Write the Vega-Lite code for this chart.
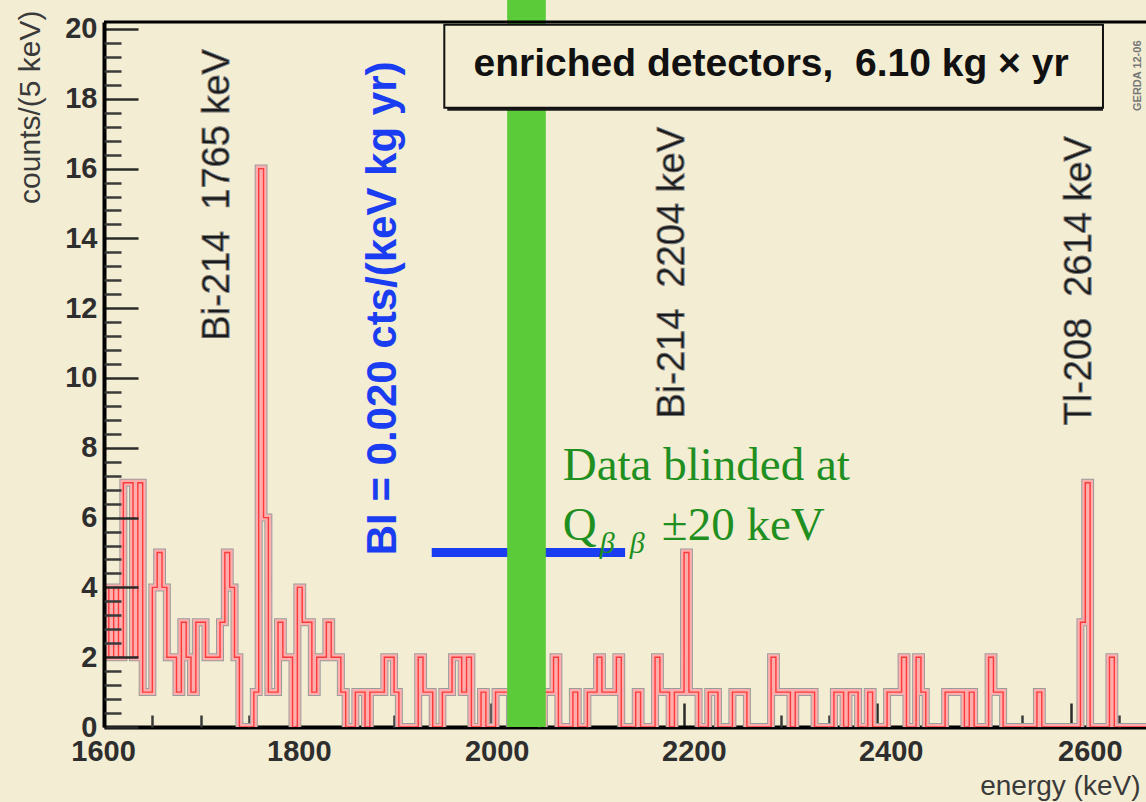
{
  "$schema": "https://vega.github.io/schema/vega-lite/v6.json",
  "width": 1042,
  "height": 705,
  "autosize": {"type": "none"},
  "padding": {"left": 104, "top": 22, "right": 0, "bottom": 75},
  "background": "#f3edd3",
  "config": {"font": "Liberation Sans", "view": {"stroke": null}},
  "datasets": {
    "spectrum": [
      {"energy":1600,"counts":4},{"energy":1605,"counts":2},{"energy":1610,"counts":4},{"energy":1615,"counts":2},
      {"energy":1620,"counts":7},{"energy":1625,"counts":7},{"energy":1630,"counts":2},{"energy":1635,"counts":7},
      {"energy":1640,"counts":1},{"energy":1645,"counts":1},{"energy":1650,"counts":4},{"energy":1655,"counts":5},
      {"energy":1660,"counts":4},{"energy":1665,"counts":2},{"energy":1670,"counts":2},{"energy":1675,"counts":1},
      {"energy":1680,"counts":3},{"energy":1685,"counts":2},{"energy":1690,"counts":1},{"energy":1695,"counts":3},
      {"energy":1700,"counts":3},{"energy":1705,"counts":2},{"energy":1710,"counts":2},{"energy":1715,"counts":2},
      {"energy":1720,"counts":3},{"energy":1725,"counts":5},{"energy":1730,"counts":4},{"energy":1735,"counts":2},
      {"energy":1740,"counts":0},{"energy":1745,"counts":0},{"energy":1750,"counts":0},{"energy":1755,"counts":1},
      {"energy":1760,"counts":16},{"energy":1765,"counts":6},{"energy":1770,"counts":1},{"energy":1775,"counts":1},
      {"energy":1780,"counts":3},{"energy":1785,"counts":2},{"energy":1790,"counts":2},{"energy":1795,"counts":0},
      {"energy":1800,"counts":4},{"energy":1805,"counts":3},{"energy":1810,"counts":3},{"energy":1815,"counts":1},
      {"energy":1820,"counts":2},{"energy":1825,"counts":2},{"energy":1830,"counts":3},{"energy":1835,"counts":2},
      {"energy":1840,"counts":2},{"energy":1845,"counts":1},{"energy":1850,"counts":0},{"energy":1855,"counts":0},
      {"energy":1860,"counts":1},{"energy":1865,"counts":1},{"energy":1870,"counts":0},{"energy":1875,"counts":1},
      {"energy":1880,"counts":1},{"energy":1885,"counts":1},{"energy":1890,"counts":2},{"energy":1895,"counts":2},
      {"energy":1900,"counts":1},{"energy":1905,"counts":0},{"energy":1910,"counts":0},{"energy":1915,"counts":0},
      {"energy":1920,"counts":0},{"energy":1925,"counts":2},{"energy":1930,"counts":1},{"energy":1935,"counts":1},
      {"energy":1940,"counts":0},{"energy":1945,"counts":0},{"energy":1950,"counts":1},{"energy":1955,"counts":1},
      {"energy":1960,"counts":2},{"energy":1965,"counts":2},{"energy":1970,"counts":1},{"energy":1975,"counts":2},
      {"energy":1980,"counts":0},{"energy":1985,"counts":0},{"energy":1990,"counts":1},{"energy":1995,"counts":0},
      {"energy":2000,"counts":0},{"energy":2005,"counts":1},{"energy":2010,"counts":1},{"energy":2015,"counts":1},
      {"energy":2020,"counts":0},{"energy":2025,"counts":0},{"energy":2030,"counts":0},{"energy":2035,"counts":0},
      {"energy":2040,"counts":0},{"energy":2045,"counts":0},{"energy":2050,"counts":0},{"energy":2055,"counts":1},
      {"energy":2060,"counts":1},{"energy":2065,"counts":2},{"energy":2070,"counts":0},{"energy":2075,"counts":0},
      {"energy":2080,"counts":0},{"energy":2085,"counts":1},{"energy":2090,"counts":0},{"energy":2095,"counts":0},
      {"energy":2100,"counts":1},{"energy":2105,"counts":1},{"energy":2110,"counts":2},{"energy":2115,"counts":1},
      {"energy":2120,"counts":1},{"energy":2125,"counts":1},{"energy":2130,"counts":2},{"energy":2135,"counts":0},
      {"energy":2140,"counts":0},{"energy":2145,"counts":0},{"energy":2150,"counts":1},{"energy":2155,"counts":0},
      {"energy":2160,"counts":0},{"energy":2165,"counts":0},{"energy":2170,"counts":2},{"energy":2175,"counts":1},
      {"energy":2180,"counts":1},{"energy":2185,"counts":0},{"energy":2190,"counts":1},{"energy":2195,"counts":1},
      {"energy":2200,"counts":5},{"energy":2205,"counts":1},{"energy":2210,"counts":1},{"energy":2215,"counts":0},
      {"energy":2220,"counts":0},{"energy":2225,"counts":1},{"energy":2230,"counts":1},{"energy":2235,"counts":0},
      {"energy":2240,"counts":0},{"energy":2245,"counts":0},{"energy":2250,"counts":1},{"energy":2255,"counts":1},
      {"energy":2260,"counts":1},{"energy":2265,"counts":0},{"energy":2270,"counts":0},{"energy":2275,"counts":0},
      {"energy":2280,"counts":0},{"energy":2285,"counts":0},{"energy":2290,"counts":2},{"energy":2295,"counts":1},
      {"energy":2300,"counts":1},{"energy":2305,"counts":1},{"energy":2310,"counts":0},{"energy":2315,"counts":1},
      {"energy":2320,"counts":1},{"energy":2325,"counts":1},{"energy":2330,"counts":1},{"energy":2335,"counts":0},
      {"energy":2340,"counts":0},{"energy":2345,"counts":0},{"energy":2350,"counts":0},{"energy":2355,"counts":1},
      {"energy":2360,"counts":1},{"energy":2365,"counts":0},{"energy":2370,"counts":1},{"energy":2375,"counts":1},
      {"energy":2380,"counts":0},{"energy":2385,"counts":0},{"energy":2390,"counts":1},{"energy":2395,"counts":0},
      {"energy":2400,"counts":0},{"energy":2405,"counts":0},{"energy":2410,"counts":1},{"energy":2415,"counts":1},
      {"energy":2420,"counts":1},{"energy":2425,"counts":2},{"energy":2430,"counts":0},{"energy":2435,"counts":0},
      {"energy":2440,"counts":2},{"energy":2445,"counts":1},{"energy":2450,"counts":0},{"energy":2455,"counts":0},
      {"energy":2460,"counts":0},{"energy":2465,"counts":0},{"energy":2470,"counts":1},{"energy":2475,"counts":1},
      {"energy":2480,"counts":1},{"energy":2485,"counts":1},{"energy":2490,"counts":0},{"energy":2495,"counts":1},
      {"energy":2500,"counts":0},{"energy":2505,"counts":0},{"energy":2510,"counts":0},{"energy":2515,"counts":2},
      {"energy":2520,"counts":1},{"energy":2525,"counts":1},{"energy":2530,"counts":0},{"energy":2535,"counts":0},
      {"energy":2540,"counts":0},{"energy":2545,"counts":0},{"energy":2550,"counts":0},{"energy":2555,"counts":0},
      {"energy":2560,"counts":0},{"energy":2565,"counts":1},{"energy":2570,"counts":0},{"energy":2575,"counts":0},
      {"energy":2580,"counts":0},{"energy":2585,"counts":0},{"energy":2590,"counts":0},{"energy":2595,"counts":0},
      {"energy":2600,"counts":0},{"energy":2605,"counts":0},{"energy":2610,"counts":3},{"energy":2615,"counts":7},
      {"energy":2620,"counts":0},{"energy":2625,"counts":0},{"energy":2630,"counts":0},{"energy":2635,"counts":0},
      {"energy":2640,"counts":2},{"energy":2645,"counts":0},{"energy":2650,"counts":0},{"energy":2655,"counts":0},
      {"energy":2660,"counts":0},{"energy":2665,"counts":0},{"energy":2670,"counts":0},{"energy":2675,"counts":0},
      {"energy":2680,"counts":0}
    ]
  },
  "data": {"name": "spectrum"},
  "resolve": {"axis": {"x": "independent", "y": "independent"}},
  "layer": [
    {
      "mark": {"type": "line", "interpolate": "step-after", "color": "#9c9c9c", "strokeWidth": 8, "clip": true, "strokeJoin": "miter"},
      "encoding": {
        "x": {"field": "energy", "type": "quantitative", "scale": {"domain": [1600, 2677.8], "nice": false, "zero": false},
          "axis": {"values": [1600, 1800, 2000, 2200, 2400, 2600], "format": "d", "orient": "bottom", "grid": false, "zindex": 0,
            "tickSize": -24, "tickWidth": 2.5, "tickColor": "#2a2a2a",
            "domainColor": "#000000", "domainWidth": 4,
            "labelFontSize": 29, "labelFontWeight": "bold", "labelColor": "#2e2e2e", "labelPadding": 57,
            "labelBaseline": "alphabetic", "labelFlush": false, "labelOverlap": false,
            "labelOffset": {"condition": [
              {"test": "datum.value == 1600", "value": -1},
              {"test": "datum.value == 1800", "value": 1.5},
              {"test": "datum.value == 2000", "value": 6},
              {"test": "datum.value == 2200", "value": 9.7},
              {"test": "datum.value == 2400", "value": 13.3},
              {"test": "datum.value == 2600", "value": 19}
            ], "value": 0},
            "title": "energy (keV)", "titleFontSize": 28, "titleFontWeight": "normal", "titleColor": "#3a3a3a",
            "titleAnchor": "end", "titleAlign": "right", "titleBaseline": "alphabetic", "titleX": 1036, "titleY": 67}},
        "y": {"field": "counts", "type": "quantitative", "scale": {"domain": [0, 20.2], "nice": false, "zero": false},
          "axis": {"values": [0, 2, 4, 6, 8, 10, 12, 14, 16, 18, 20], "orient": "left", "grid": false, "zindex": 1,
            "tickSize": -34, "tickWidth": 2.5, "tickColor": "#2a2a2a",
            "domainColor": "#000000", "domainWidth": 4,
            "labelFontSize": 29, "labelFontWeight": "bold", "labelColor": "#2e2e2e", "labelPadding": 41,
            "labelBaseline": "middle", "labelFlush": false, "labelOverlap": false,
            "title": "counts/(5 keV)", "titleFontSize": 30, "titleFontWeight": "normal", "titleColor": "#3a3a3a",
            "titleAngle": -90, "titleAlign": "right", "titleBaseline": "middle", "titleX": -74, "titleY": -12}}
      }
    },
    {
      "mark": {"type": "line", "interpolate": "step-after", "color": "#ffadad", "strokeWidth": 6, "clip": true, "strokeJoin": "miter"},
      "encoding": {
        "x": {"field": "energy", "type": "quantitative", "scale": {"domain": [1600, 2677.8], "nice": false, "zero": false},
          "axis": {"values": [1650, 1700, 1750, 1850, 1900, 1950, 2050, 2100, 2150, 2250, 2300, 2350, 2450, 2500, 2550, 2650],
            "orient": "bottom", "grid": false, "zindex": 0, "tickSize": -12, "tickWidth": 2.5, "tickColor": "#3a3a3a",
            "labels": false, "domain": false, "title": null}},
        "y": {"field": "counts", "type": "quantitative", "scale": {"domain": [0, 20.2], "nice": false, "zero": false},
          "axis": {"values": [0.4, 0.8, 1.2, 1.6, 2.4, 2.8, 3.2, 3.6, 4.4, 4.8, 5.2, 5.6, 6.4, 6.8, 7.2, 7.6, 8.4, 8.8, 9.2, 9.6, 10.4, 10.8, 11.2, 11.6, 12.4, 12.8, 13.2, 13.6, 14.4, 14.8, 15.2, 15.6, 16.4, 16.8, 17.2, 17.6, 18.4, 18.8, 19.2, 19.6],
            "orient": "left", "grid": false, "zindex": 1, "tickSize": -17, "tickWidth": 2.5, "tickColor": "#3a3a3a",
            "labels": false, "domain": false, "title": null}}
      }
    },
    {
      "mark": {"type": "line", "interpolate": "step-after", "color": "#ff3a3a", "strokeWidth": 1.4, "clip": true, "strokeJoin": "miter"},
      "encoding": {
        "x": {"field": "energy", "type": "quantitative", "scale": {"domain": [1600, 2677.8], "nice": false, "zero": false}, "axis": null},
        "y": {"field": "counts", "type": "quantitative", "scale": {"domain": [0, 20.2], "nice": false, "zero": false}, "axis": null}
      }
    },
    {
      "data": {"values": [{"from": 1939, "to": 2139, "level": 5}]},
      "mark": {"type": "rule", "color": "#1b3df2", "strokeWidth": 9, "strokeCap": "butt"},
      "encoding": {
        "x": {"field": "from", "type": "quantitative", "scale": {"domain": [1600, 2677.8], "nice": false, "zero": false}, "axis": null},
        "x2": {"field": "to"},
        "y": {"field": "level", "type": "quantitative", "scale": {"domain": [0, 20.2], "nice": false, "zero": false}, "axis": null}
      }
    },
    {
      "data": {"values": [{"from": 2017, "to": 2057, "bottom": 0, "top": 20.83}]},
      "mark": {"type": "rect", "color": "#5ccb3a", "clip": false},
      "encoding": {
        "x": {"field": "from", "type": "quantitative", "scale": {"domain": [1600, 2677.8], "nice": false, "zero": false}, "axis": null},
        "x2": {"field": "to"},
        "y": {"field": "bottom", "type": "quantitative", "scale": {"domain": [0, 20.2], "nice": false, "zero": false}, "axis": null},
        "y2": {"field": "top"}
      }
    },
    {
      "data": {"values": [{"from": 1600, "to": 2677.8, "level": 20.2}]},
      "mark": {"type": "rule", "color": "#000000", "strokeWidth": 3},
      "encoding": {
        "x": {"field": "from", "type": "quantitative", "scale": {"domain": [1600, 2677.8], "nice": false, "zero": false}, "axis": null},
        "x2": {"field": "to"},
        "y": {"field": "level", "type": "quantitative", "scale": {"domain": [0, 20.2], "nice": false, "zero": false}, "axis": null}
      }
    },
    {
      "data": {"values": [{"left": 1952, "right": 2633.3, "bottom": 17.74, "top": 20.12}]},
      "mark": {"type": "rect", "color": "#1a1a1a", "xOffset": 3, "yOffset": 3, "clip": false},
      "encoding": {
        "x": {"field": "left", "type": "quantitative", "scale": {"domain": [1600, 2677.8], "nice": false, "zero": false}, "axis": null},
        "x2": {"field": "right"},
        "y": {"field": "bottom", "type": "quantitative", "scale": {"domain": [0, 20.2], "nice": false, "zero": false}, "axis": null},
        "y2": {"field": "top"}
      }
    },
    {
      "data": {"values": [{"left": 1952, "right": 2633.3, "bottom": 17.74, "top": 20.12}]},
      "mark": {"type": "rect", "fill": "#f3edd3", "stroke": "#111111", "strokeWidth": 2, "clip": false},
      "encoding": {
        "x": {"field": "left", "type": "quantitative", "scale": {"domain": [1600, 2677.8], "nice": false, "zero": false}, "axis": null},
        "x2": {"field": "right"},
        "y": {"field": "bottom", "type": "quantitative", "scale": {"domain": [0, 20.2], "nice": false, "zero": false}, "axis": null},
        "y2": {"field": "top"}
      }
    },
    {
      "data": {"values": [{"label": "enriched detectors,\u00a0 6.10 kg\u00a0× yr", "e": 2290, "c": 19.0}]},
      "mark": {"type": "text", "fontSize": 39, "fontWeight": "bold", "color": "#111111", "align": "center", "baseline": "middle"},
      "encoding": {
        "x": {"field": "e", "type": "quantitative", "scale": {"domain": [1600, 2677.8], "nice": false, "zero": false}, "axis": null},
        "y": {"field": "c", "type": "quantitative", "scale": {"domain": [0, 20.2], "nice": false, "zero": false}, "axis": null},
        "text": {"field": "label"}
      }
    },
    {
      "data": {"values": [{"label": "GERDA 12-06", "e": 2669.4, "c": 18.66}]},
      "mark": {"type": "text", "fontSize": 11, "fontWeight": "bold", "color": "#777777", "align": "center", "baseline": "middle", "angle": -90},
      "encoding": {
        "x": {"field": "e", "type": "quantitative", "scale": {"domain": [1600, 2677.8], "nice": false, "zero": false}, "axis": null},
        "y": {"field": "c", "type": "quantitative", "scale": {"domain": [0, 20.2], "nice": false, "zero": false}, "axis": null},
        "text": {"field": "label"}
      }
    },
    {
      "data": {"values": [
        {"label": "Bi-214\u00a0 1765 keV", "e": 1718, "c": 11.07},
        {"label": "Bi-214\u00a0 2204 keV", "e": 2188.3, "c": 8.84},
        {"label": "Tl-208\u00a0 2614 keV", "e": 2609.3, "c": 8.64}
      ]},
      "mark": {"type": "text", "fontSize": 38, "color": "#1a1a1a", "stroke": "#7a7a7a", "strokeWidth": 0.9, "align": "left", "baseline": "middle", "angle": -90},
      "encoding": {
        "x": {"field": "e", "type": "quantitative", "scale": {"domain": [1600, 2677.8], "nice": false, "zero": false}, "axis": null},
        "y": {"field": "c", "type": "quantitative", "scale": {"domain": [0, 20.2], "nice": false, "zero": false}, "axis": null},
        "text": {"field": "label"}
      }
    },
    {
      "data": {"values": [{"label": "BI = 0.020 cts/(keV kg yr)", "e": 1888.4, "c": 4.92}]},
      "mark": {"type": "text", "fontSize": 42, "fontWeight": "bold", "color": "#1b3df2", "align": "left", "baseline": "middle", "angle": -90},
      "encoding": {
        "x": {"field": "e", "type": "quantitative", "scale": {"domain": [1600, 2677.8], "nice": false, "zero": false}, "axis": null},
        "y": {"field": "c", "type": "quantitative", "scale": {"domain": [0, 20.2], "nice": false, "zero": false}, "axis": null},
        "text": {"field": "label"}
      }
    },
    {
      "data": {"values": [
        {"label": "Data blinded at", "e": 2074.5, "c": 7.07},
        {"label": "Q", "e": 2074.5, "c": 5.35},
        {"label": "±20 keV", "e": 2177, "c": 5.35}
      ]},
      "mark": {"type": "text", "font": "Liberation Serif", "fontSize": 47, "color": "#1f8f1f", "align": "left", "baseline": "alphabetic"},
      "encoding": {
        "x": {"field": "e", "type": "quantitative", "scale": {"domain": [1600, 2677.8], "nice": false, "zero": false}, "axis": null},
        "y": {"field": "c", "type": "quantitative", "scale": {"domain": [0, 20.2], "nice": false, "zero": false}, "axis": null},
        "text": {"field": "label"}
      }
    },
    {
      "data": {"values": [{"label": "β\u00a0\u00a0β", "e": 2112.8, "c": 4.98}]},
      "mark": {"type": "text", "font": "Liberation Serif", "fontSize": 30, "fontStyle": "italic", "color": "#1f8f1f", "align": "left", "baseline": "alphabetic"},
      "encoding": {
        "x": {"field": "e", "type": "quantitative", "scale": {"domain": [1600, 2677.8], "nice": false, "zero": false}, "axis": null},
        "y": {"field": "c", "type": "quantitative", "scale": {"domain": [0, 20.2], "nice": false, "zero": false}, "axis": null},
        "text": {"field": "label"}
      }
    }
  ]
}
